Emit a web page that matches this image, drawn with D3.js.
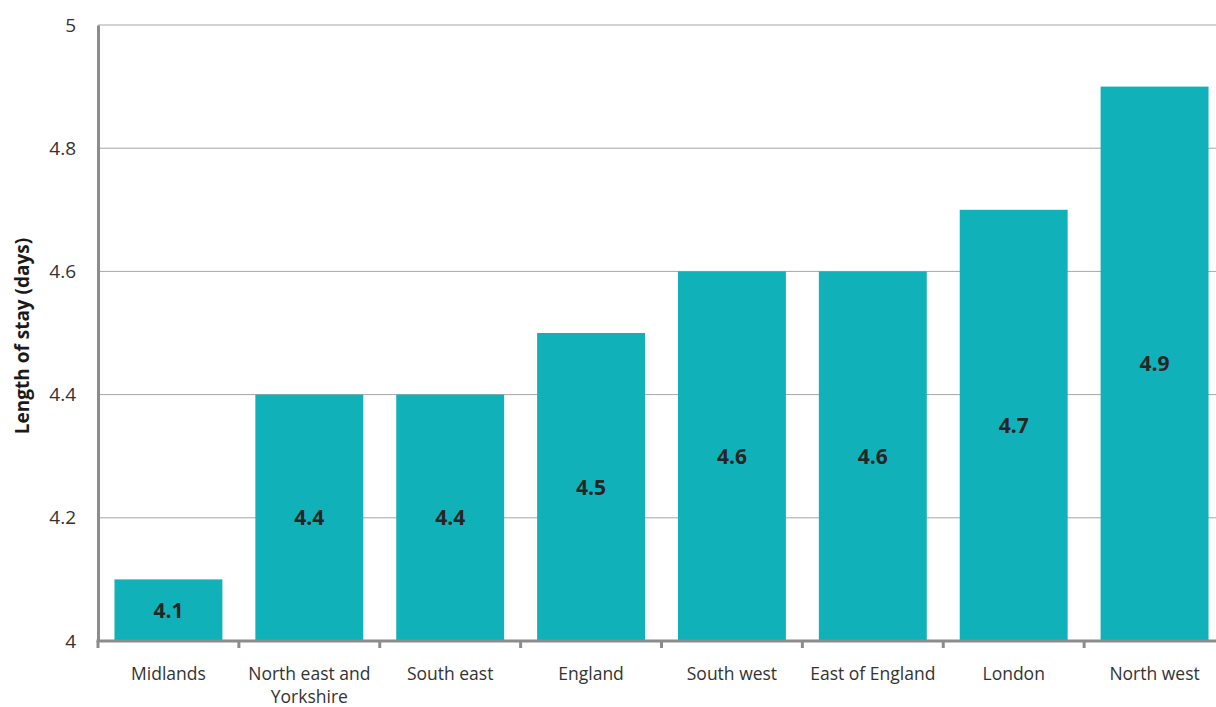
<!DOCTYPE html>
<html>
<head>
<meta charset="utf-8">
<script src="https://cdn.jsdelivr.net/npm/d3@7"></script>
<style>
  html, body { margin: 0; padding: 0; background: #fff; }
  svg { display: block; font-family: "Open Sans", "Noto Sans", sans-serif; }
</style>
</head>
<body>
<svg id="chart" width="1216" height="707"></svg>
<script>
// Average length of stay by region (days)
const regions = ["Midlands", "North east and Yorkshire", "South east", "England",
                 "South west", "East of England", "London", "North west"];
const regionLines = [["Midlands"], ["North east and", "Yorkshire"], ["South east"], ["England"],
                     ["South west"], ["East of England"], ["London"], ["North west"]];
const stayDays = [4.1, 4.4, 4.4, 4.5, 4.6, 4.6, 4.7, 4.9];
const yTicks = [4, 4.2, 4.4, 4.6, 4.8, 5];
const yTickLabels = ["4", "4.2", "4.4", "4.6", "4.8", "5"];

(function () {
  const svg = d3.select("#chart");
  const plotLeft = 98, plotRight = 1225, plotTop = 25, plotBottom = 641;

  const x = d3.scaleBand().domain(regions).range([plotLeft, plotRight]).paddingInner(0.234).paddingOuter(0.117);
  const y = d3.scaleLinear().domain([4, 5]).range([plotBottom, plotTop]);

  // gridlines
  svg.append("g")
    .selectAll("line")
    .data(yTicks.filter(t => t > 4))
    .join("line")
    .attr("x1", plotLeft).attr("x2", 1216)
    .attr("y1", d => y(d)).attr("y2", d => y(d))
    .attr("stroke", "#a6a6a6").attr("stroke-width", 1);

  // bars
  svg.append("g")
    .selectAll("rect")
    .data(regions)
    .join("rect")
    .attr("x", d => x(d))
    .attr("width", x.bandwidth())
    .attr("y", (d, i) => y(stayDays[i]))
    .attr("height", (d, i) => y(4) - y(stayDays[i]))
    .attr("fill", "#10b1b8");

  // value labels centred in each bar
  svg.append("g")
    .selectAll("text")
    .data(regions)
    .join("text")
    .attr("x", d => x(d) + x.bandwidth() / 2)
    .attr("y", (d, i) => (y(stayDays[i]) + y(4)) / 2)
    .attr("dy", "0.36em")
    .attr("text-anchor", "middle")
    .attr("font-size", 21)
    .attr("font-weight", 700)
    .attr("fill", "#252525")
    .text((d, i) => stayDays[i].toFixed(1));

  // y axis
  const yAxis = svg.append("g")
    .attr("transform", `translate(${plotLeft},0)`)
    .call(d3.axisLeft(y).tickValues(yTicks).tickFormat((d, i) => yTickLabels[i]).tickSize(0).tickPadding(22));
  yAxis.select(".domain").attr("stroke", "#8c8c8c").attr("stroke-width", 3);
  yAxis.selectAll("text").attr("font-size", 19).attr("fill", "#333").attr("font-family", "Open Sans, sans-serif");

  // x axis with ticks at category boundaries
  const step = x.step();
  const boundaries = d3.range(regions.length + 1).map(i => plotLeft + i * step);
  const xg = svg.append("g");
  xg.append("line")
    .attr("x1", plotLeft - 1.5).attr("x2", 1216)
    .attr("y1", plotBottom).attr("y2", plotBottom)
    .attr("stroke", "#8c8c8c").attr("stroke-width", 3);
  xg.selectAll("line.tick")
    .data(boundaries)
    .join("line")
    .attr("class", "tick")
    .attr("x1", d => d).attr("x2", d => d)
    .attr("y1", plotBottom).attr("y2", plotBottom + 7)
    .attr("stroke", "#8c8c8c").attr("stroke-width", 3);

  // category labels
  xg.selectAll("text.cat")
    .data(regions)
    .join("text")
    .attr("class", "cat")
    .attr("x", d => x(d) + x.bandwidth() / 2)
    .attr("y", 680)
    .attr("text-anchor", "middle")
    .attr("font-size", 17.5)
    .attr("fill", "#333")
    .each(function (d, i) {
      d3.select(this).selectAll("tspan")
        .data(regionLines[i])
        .join("tspan")
        .attr("x", x(d) + x.bandwidth() / 2)
        .attr("dy", (t, j) => j === 0 ? 0 : 23)
        .text(t => t);
    });

  // y axis title
  svg.append("text")
    .attr("transform", `translate(29,336) rotate(-90)`)
    .attr("text-anchor", "middle")
    .attr("font-size", 19)
    .attr("font-weight", 700)
    .attr("fill", "#1a1a1a")
    .text("Length of stay (days)");
})();
</script>
</body>
</html>
